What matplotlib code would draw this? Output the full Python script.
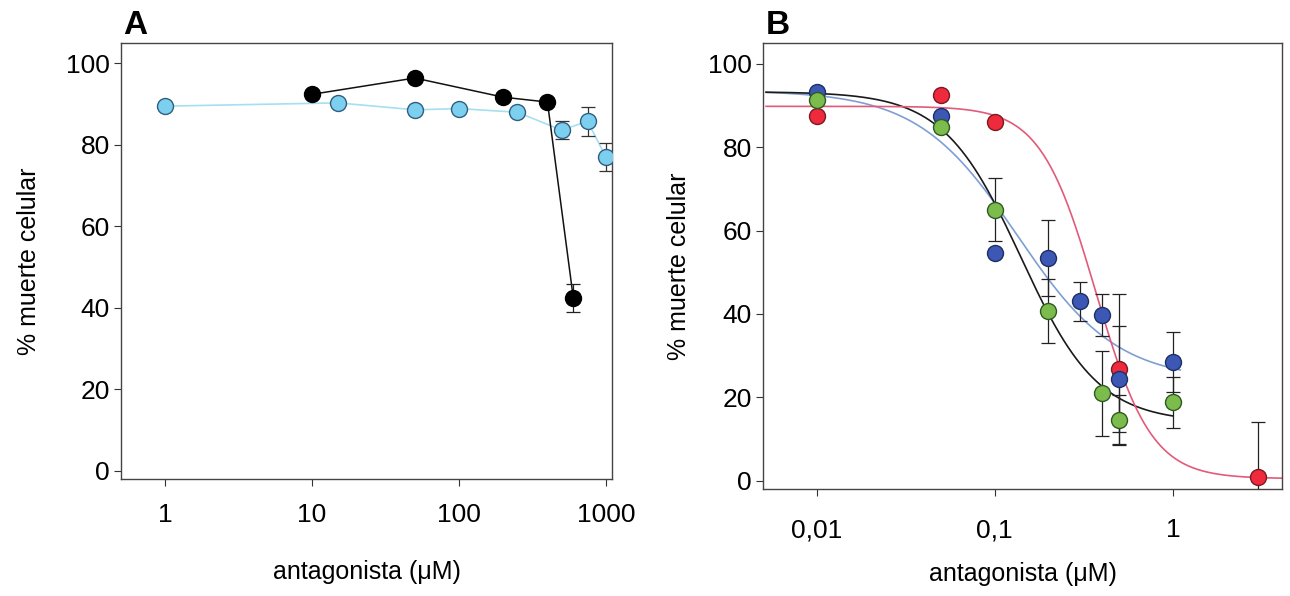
import numpy as np
import matplotlib.pyplot as plt

plt.rcParams['font.family'] = ['Liberation Sans', 'DejaVu Sans']

# Panel A data
a_cyan_x = [1, 15, 50, 100, 250, 500, 750, 1000]
a_cyan_y = [89.5, 90.3, 88.6, 88.9, 88.0, 83.6, 85.8, 77.0]
a_cyan_err = [0, 0, 0, 0, 0, 2.2, 3.6, 3.5]

a_black_x = [10, 50, 200, 400, 600]
a_black_y = [92.4, 96.4, 91.7, 90.5, 42.4]
a_black_err = [0, 0, 0, 0, 3.4]

# Panel B data
b_blue_x = [0.01, 0.05, 0.1, 0.2, 0.3, 0.4, 0.5, 1.0]
b_blue_y = [93.2, 87.5, 54.6, 53.4, 43.0, 39.8, 24.4, 28.4]
b_blue_err = [0, 0, 0, 9.2, 4.7, 5.0, 12.8, 7.2]

b_green_x = [0.01, 0.05, 0.1, 0.2, 0.4, 0.5, 1.0]
b_green_y = [91.4, 84.8, 65.0, 40.8, 21.0, 14.5, 18.8]
b_green_err = [0, 0, 7.6, 7.7, 10.2, 6.0, 6.1]

b_red_x = [0.01, 0.05, 0.1, 0.5, 3.0]
b_red_y = [87.5, 92.6, 86.0, 26.9, 1.0]
b_red_err = [0, 0, 0, 18.0, 13.1]

# fitted sigmoid parameters (top, bottom, IC50, hill, x range)
fit_blue = (93.6, 24.0, 0.134, 1.55, 0.0052, 1.1)
fit_black = (93.3, 14.0, 0.14, 2.0, 0.0052, 1.0)
fit_red = (89.8, 0.5, 0.37, 2.8, 0.0052, 4.1)


def hill(x, top, bottom, ic50, h):
    return bottom + (top - bottom) / (1 + (x / ic50) ** h)


def style_axes(ax, ticks, labels, xpad, lpad, xlpad):
    ax.set_xscale('log')
    ax.set_xticks(ticks)
    ax.set_xticklabels(labels)
    ax.set_ylim(-2, 105)
    ax.set_yticks([0, 20, 40, 60, 80, 100])
    ax.minorticks_off()
    ax.tick_params(axis='both', direction='out', length=5, width=0.8,
                   labelsize=19, top=False, right=False, color='#333333')
    ax.tick_params(axis='x', pad=xpad)
    ax.tick_params(axis='y', pad=3)
    for s in ax.spines.values():
        s.set_color('#444444')
        s.set_linewidth(1.0)
    ax.set_ylabel('% muerte celular', fontsize=18, labelpad=lpad)
    ax.set_xlabel('antagonista (\u03bcM)', fontsize=18, labelpad=xlpad)


fig = plt.figure(figsize=(12.9, 5.96), dpi=100)
axA = fig.add_axes([0.0938, 0.1963, 0.3806, 0.7316])
axB = fig.add_axes([0.5915, 0.1795, 0.4023, 0.7484])

# Panel A
axA.plot(a_cyan_x, a_cyan_y, color='#a6dff0', lw=1.2, zorder=1)
axA.errorbar(a_cyan_x, a_cyan_y, yerr=a_cyan_err, fmt='none', ecolor='#333333',
             elinewidth=0.9, capsize=5, capthick=0.9, zorder=2)
axA.plot(a_cyan_x, a_cyan_y, 'o', ms=11.5, mfc='#7ccfee', mec='#2f5f80', mew=1.0, zorder=3)
axA.plot(a_black_x, a_black_y, color='#111111', lw=1.1, zorder=1)
axA.errorbar(a_black_x, a_black_y, yerr=a_black_err, fmt='none', ecolor='#222222',
             elinewidth=0.9, capsize=5, capthick=0.9, zorder=2)
axA.plot(a_black_x, a_black_y, 'o', ms=11.5, mfc='#000000', mec='#000000', zorder=3)
axA.set_xlim(0.5, 1100)
style_axes(axA, [1, 10, 100, 1000], ['1', '10', '100', '1000'], 12, 18, 24)
axA.text(0.005, 1.005, 'A', transform=axA.transAxes, fontsize=24,
         fontweight='bold', ha='left', va='bottom')

# Panel B fitted curves
for p, c in [(fit_blue, '#7f9fd4'), (fit_black, '#1a1a1a'), (fit_red, '#e35a7a')]:
    xs = np.logspace(np.log10(p[4]), np.log10(p[5]), 300)
    axB.plot(xs, hill(xs, *p[:4]), color=c, lw=1.2, zorder=1)

for xs, ys, es, fc, ec in [(b_red_x, b_red_y, b_red_err, '#ee2a3c', '#7a1a22'),
                           (b_blue_x, b_blue_y, b_blue_err, '#3c58b4', '#1e2e66'),
                           (b_green_x, b_green_y, b_green_err, '#7cbc4c', '#2f5a22')]:
    axB.errorbar(xs, ys, yerr=es, fmt='none', ecolor='#222222',
                 elinewidth=0.9, capsize=5, capthick=0.9, zorder=2)
    axB.plot(xs, ys, 'o', ms=11.5, mfc=fc, mec=ec, mew=1.0, zorder=3)

axB.set_xlim(0.005, 4.1)
style_axes(axB, [0.01, 0.1, 1], ['0,01', '0,1', '1'], 16, 12, 14)
axB.text(0.005, 1.005, 'B', transform=axB.transAxes, fontsize=24,
         fontweight='bold', ha='left', va='bottom')

fig.savefig('out.png', dpi=100)
